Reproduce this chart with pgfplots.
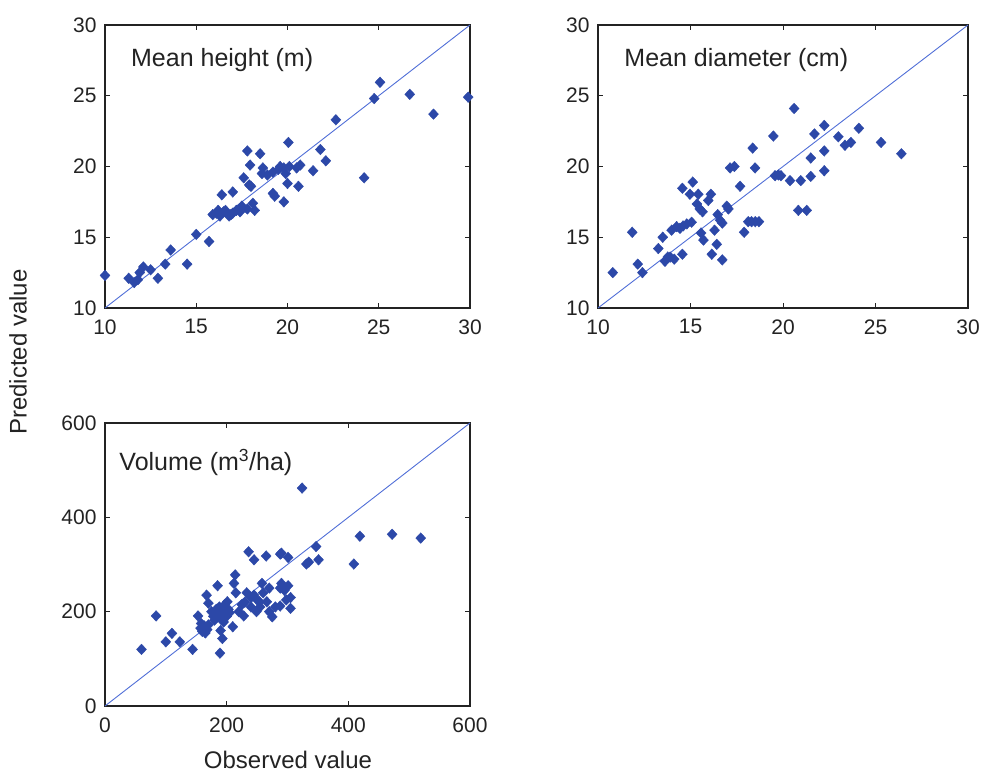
\documentclass[border=0pt]{standalone}
\usepackage{pgfplots}
\pgfplotsset{compat=1.18}
\usepackage{fontspec}
\setmainfont{Liberation Sans}
\definecolor{mk}{RGB}{44,72,168}
\definecolor{ln}{RGB}{80,110,215}
\definecolor{ax}{RGB}{35,35,35}
\pgfplotsset{
  myax/.style={
    scale only axis, width=365pt, height=283pt,
    axis line style={ax, line width=1.3pt},
    tick align=inside, major tick length=5pt,
    every tick/.style={ax, line width=1pt},
    tick label style={font=\fontsize{21}{25}\selectfont, text=ax},
    /pgf/number format/assume math mode=true,
    xticklabel style={yshift=-8pt},
    yticklabel style={xshift=-5pt},
    clip=false,
  },
  pts/.style={only marks, mark=diamond*, mark size=5.3pt, color=mk, mark options={mk, xscale=1.25}},
  diag/.style={ln, line width=0.9pt, no marks},
}
\tikzset{ttl/.style={anchor=west, font=\fontsize{25}{30}\selectfont, text=ax}}
\begin{document}
\begin{tikzpicture}
\path[use as bounding box] (0,0) rectangle (986pt,-775pt);
% ---------------- Mean height ----------------
\begin{axis}[myax, at={(105pt,-308pt)}, anchor=south west,
  xmin=10, xmax=30, ymin=10, ymax=30,
  xtick={10,15,...,30}, ytick={10,15,...,30}]
\addplot[diag] coordinates {(10,10) (30,30)};
\addplot[pts] coordinates {
(10.0,12.3) (11.3,12.1) (11.6,11.8) (11.8,12.0) (11.9,12.5) (12.1,12.9) (12.5,12.7)
(12.9,12.1) (13.3,13.1) (13.6,14.1) (14.5,13.1) (15.0,15.2) (15.7,14.7)
(15.9,16.6) (16.1,16.7) (16.3,16.5) (16.5,16.8) (16.6,16.9) (16.8,16.5) (17.0,16.7)
(17.2,16.9) (17.4,16.8) (16.2,16.9) (16.9,16.6)
(16.4,18.0) (17.0,18.2) (17.6,19.2) (17.9,18.7) (18.0,18.6) (18.1,17.4) (18.2,16.9)
(17.95,20.1) (18.6,19.5) (18.9,19.4) (19.2,18.1) (19.3,17.9) (19.8,17.5)
(19.2,19.6) (19.5,19.8) (19.9,19.5) (19.8,19.9) (20.1,20.0) (20.5,19.9) (20.7,20.1)
(21.4,19.7) (22.1,20.4) (24.2,19.2) (20.0,18.8) (20.6,18.6)
(20.05,21.7) (21.8,21.2) (22.65,23.3) (24.75,24.8) (25.07,25.95) (26.7,25.1)
(28.0,23.7) (29.9,24.9) (17.8,21.1) (18.5,20.9) (18.65,19.9) (19.6,20.0)
(17.5,17.2) (17.8,17.0)
};
\node[ttl] at (rel axis cs:0.062,0.876) {Mean height (m)};
\end{axis}
% ---------------- Mean diameter ----------------
\begin{axis}[myax, width=370pt, at={(598pt,-308pt)}, anchor=south west,
  xmin=10, xmax=30, ymin=10, ymax=30,
  xtick={10,15,...,30}, ytick={10,15,...,30}]
\addplot[diag] coordinates {(10,10) (30,30)};
\addplot[pts] coordinates {
(10.8,12.5) (11.85,15.35) (12.15,13.1) (12.4,12.5) (13.26,14.2) (13.5,15.0) (13.62,13.3)
(13.77,13.6) (13.9,13.6) (14.12,13.45) (13.98,15.5) (14.25,15.75) (14.43,15.63)
(14.6,15.8) (14.8,15.94) (15.06,16.06) (14.56,13.8) (14.56,18.46) (15.12,18.9)
(14.97,18.04) (15.42,18.04) (15.35,17.35) (15.5,17.0) (15.65,16.8) (15.96,17.6)
(16.1,18.04) (15.57,15.3) (15.7,14.8) (16.3,15.5) (16.42,14.5) (16.15,13.8)
(16.72,13.4) (16.47,16.6) (16.6,16.2) (16.72,16.0) (16.96,17.2) (17.05,17.0)
(17.14,19.9) (17.37,20.0) (17.68,18.6) (17.9,15.35) (18.12,16.1) (18.3,16.1)
(18.5,16.1) (18.7,16.1) (18.36,21.3) (18.49,19.9) (19.48,22.15) (19.57,19.35)
(19.75,19.4) (19.89,19.35) (20.6,24.1) (20.38,19.0) (20.96,19.0) (20.83,16.9)
(21.28,16.9) (21.5,19.3) (21.5,20.6) (21.7,22.3) (22.23,22.9) (22.23,21.1)
(22.23,19.7) (22.99,22.1) (23.35,21.5) (23.67,21.7) (24.1,22.7) (25.3,21.7)
(26.4,20.9)
};
\node[ttl] at (rel axis cs:0.062,0.876) {Mean diameter (cm)};
\end{axis}
% ---------------- Volume ----------------
\begin{axis}[myax, at={(105pt,-706pt)}, anchor=south west,
  xmin=0, xmax=600, ymin=0, ymax=600,
  xtick={0,200,400,600}, ytick={0,200,400,600}]
\addplot[diag] coordinates {(0,0) (600,600)};
\addplot[pts] coordinates {
(60,120) (84,191) (100,136) (110,154) (123,136) (144,120) (153,191)
(157,165) (160,158) (163,170) (165,155) (168,162) (170,172) (158,175)
(167,235) (170,218) (175,200) (178,190) (180,182) (183,205) (185,195)
(188,210) (190,185) (192,200) (195,178) (197,215) (200,190) (203,205)
(205,198) (185,255) (189,112) (193,143) (190,160) (201,221) (210,168)
(212,260) (214,278) (228,191) (220,200) (225,215)
(233,240) (240,230) (245,235) (250,225) (254,221) (236,327) (245,310)
(258,260) (249,200) (255,210) (265,318) (266,221) (270,200) (275,189)
(280,210) (288,322) (290,260) (295,245) (298,225) (290,324) (301,315)
(288,250) (301,255) (305,230) (305,207) (288,212) (324,462) (347,338)
(331,301) (335,305) (351,310) (409,301) (419,360) (472,364) (519,356)
(215,240) (230,220) (240,210) (260,240) (270,250)
};
\node[ttl] at (rel axis cs:0.03,0.862) {Volume (m\textsuperscript{3}/ha)};
\end{axis}
\node[rotate=90, font=\fontsize{24}{29}\selectfont, text=ax] at (18pt,-352pt) {Predicted value};
\node[font=\fontsize{24}{29}\selectfont, text=ax] at (288pt,-760pt) {Observed value};
\end{tikzpicture}
\end{document}
